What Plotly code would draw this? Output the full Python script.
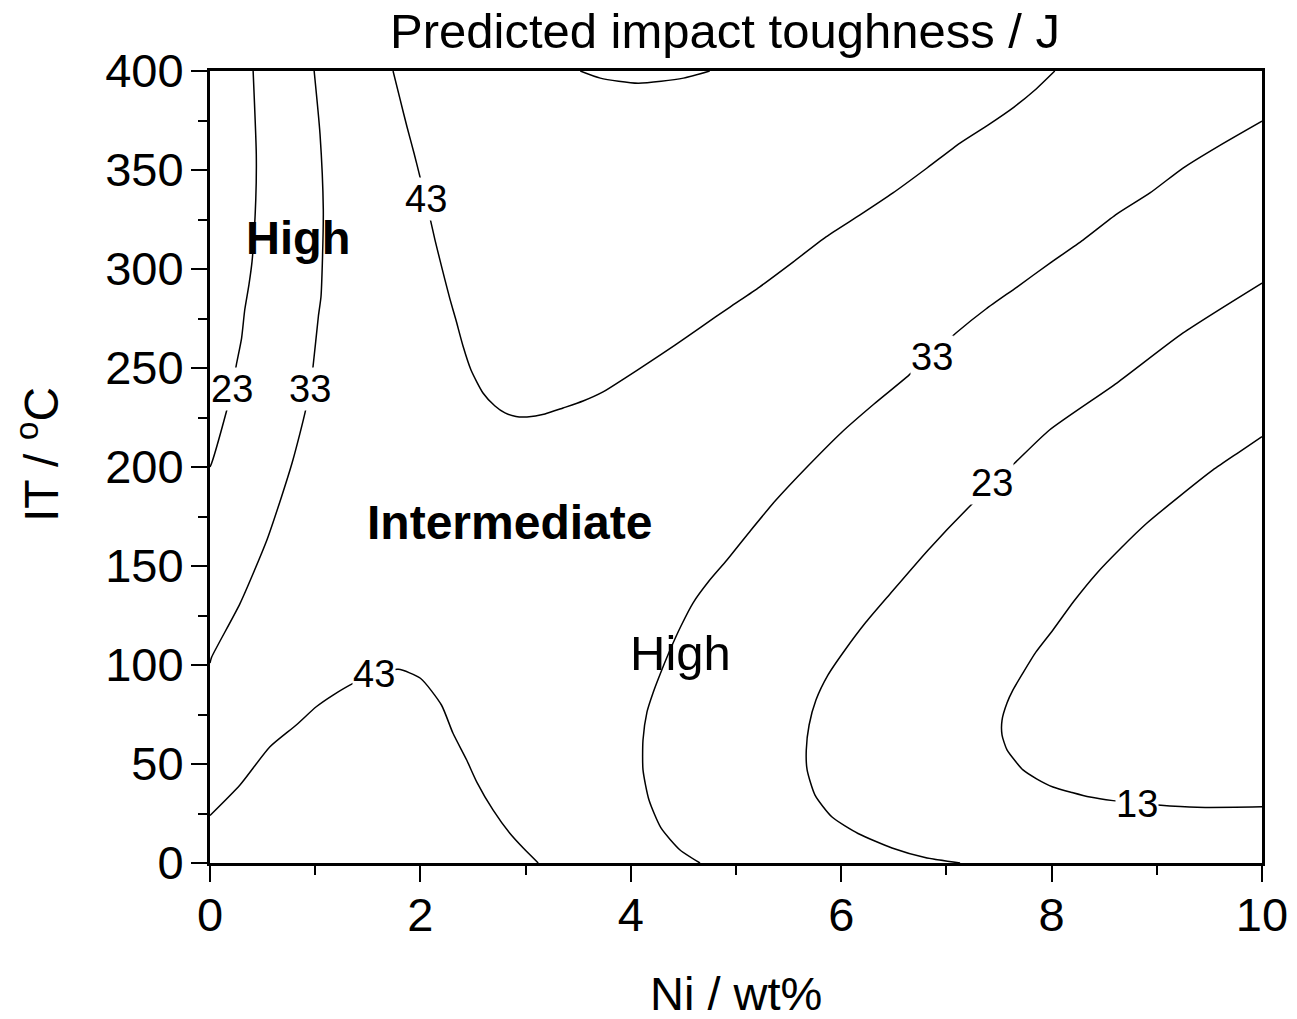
import plotly.graph_objects as go

# ---- data (Ni wt%, IT degC) ----
c23_left_x = [0.0, 0.016, 0.16, 0.21, 0.25, 0.30, 0.33, 0.37, 0.40, 0.435, 0.44, 0.41]
c23_left_y = [200, 202, 228.8, 239.4, 251.5, 265, 279.3, 292, 304, 335, 358, 400]

c33_left_x = [0.0, 0.016, 0.285, 0.54, 0.68, 0.78, 0.855, 0.91, 0.95, 0.98, 1.03, 1.055, 1.068, 1.077, 1.046, 0.99]
c33_left_y = [101, 104, 131, 163, 185, 202, 217, 229, 239.4, 251, 276, 286, 303, 330, 368, 400]

c43_upper_x = [1.740, 1.806, 1.873, 1.939, 1.996, 2.091, 2.139, 2.186, 2.234, 2.281, 2.338, 2.405, 2.481,
               2.595, 2.709, 2.804, 2.909, 3.013, 3.184, 3.356, 3.546, 3.736, 3.945, 4.163, 4.420, 4.667,
               4.943, 5.223, 5.542, 5.856, 6.179, 6.492, 6.816, 7.129, 7.395, 7.643, 7.842, 8.030]
c43_upper_y = [400, 385.9, 371.7, 358.6, 346.5, 325.8, 314.6, 304.5, 294.4, 284.8, 274.2, 261.1, 249.0,
               237.4, 230.8, 227.3, 225.5, 225.3, 226.8, 229.8, 233.3, 237.9, 244.9, 252.5, 261.6, 270.7,
               280.8, 290.9, 303.5, 316.2, 327.3, 338.4, 351.0, 363.6, 372.7, 381.8, 390.4, 400]

c43_top_x = [3.52, 3.71, 4.07, 4.50, 4.75]
c43_top_y = [400, 396.4, 393.8, 396.4, 400]

c43_lower_x = [0.0, 0.285, 0.57, 0.82, 1.01, 1.17, 1.36, 1.56, 1.79, 2.0, 2.20, 2.31, 2.44, 2.535, 2.69, 2.85, 2.98, 3.12]
c43_lower_y = [24, 39.4, 58.7, 69.7, 78.9, 84.8, 90.7, 95.5, 97.8, 93.3, 79.8, 65.5, 52, 41, 26.8, 15, 7.4, 0]

c33_right_x = [4.658, 4.468, 4.287, 4.173, 4.116, 4.116, 4.154, 4.211, 4.287, 4.373, 4.477, 4.591, 4.743,
               4.914, 5.143, 5.380, 5.684, 5.998, 6.312, 6.625, 7.091, 7.376, 7.671, 7.985, 8.298, 8.622,
               8.935, 9.249, 9.572, 10.0]
c33_right_y = [0, 6.57, 17.7, 31.8, 47.0, 62.1, 76.3, 85.9, 96.5, 107.6, 119.7, 131.3, 142.4,
               153.0, 168.2, 183.3, 200.5, 217.2, 231.8, 245.5, 267.7, 279.8, 290.9, 303.0, 314.6, 327.8,
               338.4, 351.0, 361.6, 374.7]

c23_right_x = [7.13, 6.797, 6.483, 6.16, 5.913, 5.751, 5.676, 5.668, 5.695, 5.76, 5.875, 6.036, 6.236,
               6.464, 6.825, 7.215, 7.65, 7.98, 8.62, 9.25, 10.0]
c23_right_y = [0, 2.8, 7.6, 14.9, 23.2, 34.3, 47.0, 57.0, 69.7, 82.3, 95.0, 107.6, 121.7,
               135.9, 158.0, 179.8, 202.0, 218.7, 242.4, 267.7, 292.9]

c13_x = [10.0, 9.762, 9.534, 9.221, 8.907, 8.660, 8.432, 8.213, 8.013, 7.852, 7.728, 7.633, 7.576,
         7.529, 7.529, 7.576, 7.662, 7.728, 7.861, 8.013, 8.194, 8.365, 8.584, 9.011, 9.382, 10.0]
c13_y = [215.3, 206.8, 198.5, 185.4, 171.7, 159.1, 146.5, 132.3, 117.7, 106.6, 96.0, 87.4, 80.8,
         72.2, 64.6, 57.1, 51.0, 47.0, 42.4, 38.4, 35.6, 33.3, 31.5, 29.3, 28.1, 28.4]

contours = [
    (c23_left_x, c23_left_y), (c33_left_x, c33_left_y), (c43_upper_x, c43_upper_y),
    (c43_top_x, c43_top_y), (c43_lower_x, c43_lower_y), (c33_right_x, c33_right_y),
    (c23_right_x, c23_right_y), (c13_x, c13_y),
]

# contour level labels
level_text = ["23", "33", "43", "43", "33", "23", "13"]
level_x = [0.21, 0.95, 2.05, 1.56, 6.86, 7.43, 8.81]
level_y = [239.4, 239.4, 335.6, 95.5, 255.7, 191.9, 29.8]

# region labels
region_text = ["<b>High</b>", "<b>Intermediate</b>", "High"]
region_x = [0.84, 2.85, 4.47]
region_y = [316, 172, 106]

x_ticks = [0, 2, 4, 6, 8, 10]
y_ticks = [0, 50, 100, 150, 200, 250, 300, 350, 400]

FONT = "Liberation Sans, Arial, sans-serif"

fig = go.Figure()
for cx, cy in contours:
    fig.add_trace(go.Scatter(x=cx, y=cy, mode="lines",
                             line=dict(color="black", width=1.5, shape="spline", smoothing=0.6),
                             hoverinfo="skip", showlegend=False))

annotations = []
for t, x, y in zip(level_text, level_x, level_y):
    annotations.append(dict(x=x, y=y, xref="x", yref="y", text=t, showarrow=False,
                            font=dict(family=FONT, size=38, color="black"),
                            bgcolor="white", borderpad=0, xanchor="center", yanchor="middle"))
region_sizes = [47, 48, 49]
for t, x, y, s in zip(region_text, region_x, region_y, region_sizes):
    annotations.append(dict(x=x, y=y, xref="x", yref="y", text=t, showarrow=False,
                            font=dict(family=FONT, size=s, color="black"),
                            xanchor="center", yanchor="middle"))

# titles
annotations.append(dict(x=(725 - 210) / 1052, y=1, xref="paper", yref="paper", yshift=71 - 31,
                        text="Predicted impact toughness / J", showarrow=False,
                        font=dict(family=FONT, size=49, color="black"),
                        xanchor="center", yanchor="middle"))
annotations.append(dict(x=(736 - 210) / 1052, y=0, xref="paper", yref="paper", yshift=-(993 - 863),
                        text="Ni / wt%", showarrow=False,
                        font=dict(family=FONT, size=47, color="black"),
                        xanchor="center", yanchor="middle"))
annotations.append(dict(x=0, y=(863 - 455) / 792, xref="paper", yref="paper", xshift=-(210 - 38),
                        text="IT / <sup>o</sup>C", showarrow=False, textangle=-90,
                        font=dict(family=FONT, size=48, color="black"),
                        xanchor="center", yanchor="middle"))

axis_common = dict(showline=True, linewidth=3, linecolor="black", mirror=True,
                   ticks="outside", ticklen=16, tickwidth=2, tickcolor="black",
                   showgrid=False, zeroline=False, automargin=False,
                   tickfont=dict(family=FONT, size=47, color="black"))

fig.update_layout(
    width=1297, height=1019,
    margin=dict(l=210, r=35, t=71, b=156),
    paper_bgcolor="white", plot_bgcolor="white",
    showlegend=False,
    annotations=annotations,
    xaxis=dict(range=[0, 10], tickvals=x_ticks, ticklabelstandoff=-7,
               minor=dict(dtick=1, ticklen=9, tickwidth=2, tickcolor="black", ticks="outside"),
               **axis_common),
    yaxis=dict(range=[0, 400], tickvals=y_ticks, ticklabelstandoff=-2,
               minor=dict(dtick=25, ticklen=9, tickwidth=2, tickcolor="black", ticks="outside"),
               **axis_common),
)

fig.write_html(
    "out.html",
    config={"displayModeBar": False},
    post_script="document.documentElement.style.overflow='hidden';"
                "document.body.style.margin='0';document.body.style.overflow='hidden';",
)
